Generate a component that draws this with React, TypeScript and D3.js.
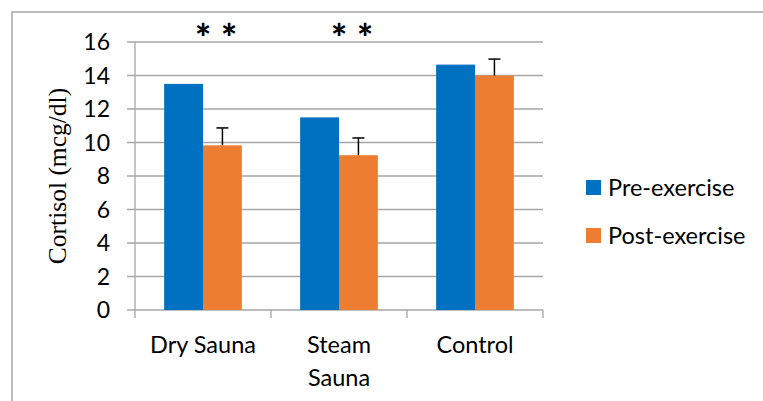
import React from 'react';
import * as d3 from 'd3';

const categories = ['Dry Sauna', 'Steam Sauna', 'Control'];
const categoryLines = [['Dry Sauna'], ['Steam', 'Sauna'], ['Control']];
const seriesNames = ['Pre-exercise', 'Post-exercise'];
const preValues = [13.5, 11.5, 14.65];
const postValues = [9.83, 9.24, 14.0];
const postErrors = [1.04, 1.03, 0.98];
const yTicks = [0, 2, 4, 6, 8, 10, 12, 14, 16];
const starred = ['Dry Sauna', 'Steam Sauna'];

const colors = ['#0070C0', '#ED7D31'];
const gridColor = '#A6A6A6';
const font = 'Lato, "Open Sans", sans-serif';

const width = 763;
const height = 401;
const margin = { top: 42, right: 220, bottom: 91, left: 135 };

const App = () => {
  const plotRight = width - margin.right;
  const plotBottom = height - margin.bottom;

  const x0 = d3.scaleBand().domain(categories).range([margin.left, plotRight]).padding(0);
  const barW = x0.bandwidth() / 3.5;
  const x1 = d3.scaleBand().domain(seriesNames).range([0, barW * 2]).padding(0);
  const groupOffset = (x0.bandwidth() - barW * 2) / 2;

  const y = d3.scaleLinear().domain([0, 16]).range([plotBottom, margin.top]);

  const seriesValues = [preValues, postValues];
  const boundaries = [...categories.map(c => x0(c)), plotRight];

  return (
    <svg width={width} height={height} style={{ position: 'absolute', left: 0, top: 0, background: '#fff' }}>
      {/* outer frame (top and left only visible) */}
      <path d={`M12,${height} L12,12 L${width},12`} fill="none" stroke={gridColor} strokeWidth={1.5} />

      {/* gridlines and y ticks */}
      {yTicks.map(t => (
        <g key={t}>
          <line x1={margin.left - 8} x2={plotRight} y1={y(t)} y2={y(t)} stroke={gridColor} strokeWidth={1.3} />
          <text x={110} y={y(t) + 8} textAnchor="end" fontFamily={font} fontSize={23} fill="#000">{t}</text>
        </g>
      ))}

      {/* y axis */}
      <line x1={margin.left} x2={margin.left} y1={margin.top} y2={plotBottom} stroke={gridColor} strokeWidth={1.3} />

      {/* category ticks */}
      {boundaries.map((b, i) => (
        <line key={i} x1={b} x2={b} y1={plotBottom} y2={plotBottom + 8} stroke={gridColor} strokeWidth={1.3} />
      ))}

      {/* bars */}
      {categories.map((c, ci) => (
        <g key={c} transform={`translate(${x0(c) + groupOffset},0)`}>
          {seriesNames.map((s, si) => (
            <rect key={s} x={x1(s)} y={y(seriesValues[si][ci])} width={x1.bandwidth()}
              height={plotBottom - y(seriesValues[si][ci])} fill={colors[si]} />
          ))}
          {/* error bar on post-exercise */}
          <line x1={x1('Post-exercise') + barW / 2} x2={x1('Post-exercise') + barW / 2}
            y1={y(postValues[ci])} y2={y(postValues[ci] + postErrors[ci])} stroke="#000" strokeWidth={1.5} />
          <line x1={x1('Post-exercise') + barW / 2 - 6} x2={x1('Post-exercise') + barW / 2 + 6}
            y1={y(postValues[ci] + postErrors[ci])} y2={y(postValues[ci] + postErrors[ci])} stroke="#000" strokeWidth={1.5} />
        </g>
      ))}

      {/* significance asterisks */}
      {starred.map(c => (
        <g key={c} fontFamily={font} fontSize={38} fontWeight="900" textAnchor="middle" fill="#000">
          <text x={x0(c) + x0.bandwidth() / 2} y={52}>*</text>
          <text x={x0(c) + x0.bandwidth() / 2 + 26} y={52}>*</text>
        </g>
      ))}

      {/* category labels */}
      {categories.map((c, ci) => (
        <text key={c} x={x0(c) + x0.bandwidth() / 2} y={353} textAnchor="middle" fontFamily={font} fontSize={23.5} fill="#000">
          {categoryLines[ci].map((line, li) => (
            <tspan key={li} x={x0(c) + x0.bandwidth() / 2} dy={li === 0 ? 0 : 33}>{line}</tspan>
          ))}
        </text>
      ))}

      {/* y axis title */}
      <text transform={`translate(57,${176}) rotate(-90)`} textAnchor="middle" dominantBaseline="central"
        fontFamily='"Liberation Serif", "Times New Roman", serif' fontSize={25.5} fill="#000">Cortisol (mcg/dl)</text>

      {/* legend */}
      {seriesNames.map((s, si) => (
        <g key={s} transform={`translate(586,${180 + si * 48})`}>
          <rect x={0} y={0} width={15} height={15} fill={colors[si]} />
          <text x={22} y={15.5} fontFamily={font} fontSize={23.5} fill="#000">{s}</text>
        </g>
      ))}
    </svg>
  );
};

export default App;
